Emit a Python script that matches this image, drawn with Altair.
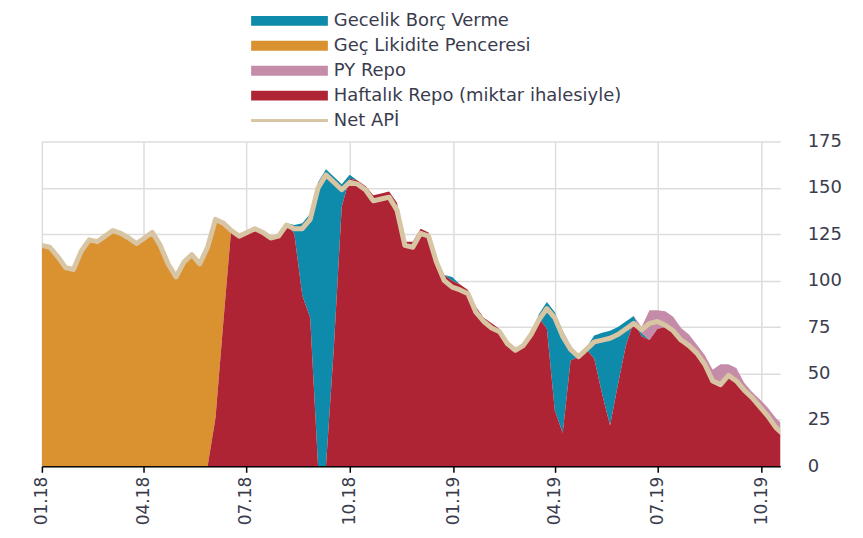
import altair as alt
import pandas as pd

dates = pd.date_range("2018-01-01", periods=95, freq="7D")

net_api = [119, 118, 113, 107, 106, 116, 122, 121, 124, 127,
           125.5, 123, 120, 123, 126, 119, 109, 102, 110, 114,
           109, 118, 133, 131, 127, 124, 126, 128, 126, 123,
           124, 130, 128, 128, 133, 150, 157, 153, 149, 153,
           152, 149, 143, 144, 145, 138, 119, 118, 125.5, 124,
           110, 100, 96.5, 95, 93, 83, 78, 74.5, 72.5, 66,
           62.5, 65, 71, 79, 85, 80, 70, 63, 59, 63,
           67, 68, 69, 71, 74, 77, 73.5, 77, 78, 76,
           73, 68, 65, 61, 55, 46, 44, 49, 46, 41,
           37, 32, 27, 21, 17]

gec_likidite = [119.5, 118.5, 113.5, 107.5, 106.5, 116.5, 122.5, 121.5, 124.5, 127.5,
                126, 123.5, 120.5, 123.5, 126.5, 119.5, 109.5, 102.5, 110.5, 114.5,
                109.5, 118.5, 107.5, 52, 0, 0, 0, 0, 0, 0,
                0, 0, 0, 0, 0, 0, 0, 0, 0, 0,
                0, 0, 0, 0, 0, 0, 0, 0, 0, 0,
                0, 0, 0, 0, 0, 0, 0, 0, 0, 0,
                0, 0, 0, 0, 0, 0, 0, 0, 0, 0,
                0, 0, 0, 0, 0, 0, 0, 0, 0, 0,
                0, 0, 0, 0, 0, 0, 0, 0, 0, 0,
                0, 0, 0, 0, 0]

haftalik = [0, 0, 0, 0, 0, 0, 0, 0, 0, 0,
            0, 0, 0, 0, 0, 0, 0, 0, 0, 0,
            0, 0, 26, 78, 128, 125, 127, 129, 127, 124,
            125, 131, 125, 92, 80, 0, 0, 64, 140, 155,
            154, 151, 146, 147, 148, 142, 121, 121, 128, 126,
            112, 103, 100, 98, 95, 86, 80, 77, 74, 67,
            63.5, 66, 72, 80, 74, 30, 18, 57, 59, 63,
            58, 39, 22, 44, 65, 78, 70, 68, 74, 75,
            72, 67, 64, 60, 54, 45, 43, 48, 45, 40,
            36, 31, 26, 20, 16]

gecelik = [0, 0, 0, 0, 0, 0, 0, 0, 0, 0,
           0, 0, 0, 0, 0, 0, 0, 0, 0, 0,
           0, 0, 0, 2, 0, 0, 0, 0, 0, 0,
           0, 0, 5, 39, 56, 153, 160, 92, 12, 2,
           0, 0, 0, 0, 0, 0, 0, 0, 0, 0,
           0, 0, 2, 0, 0, 0, 0, 0, 0, 0,
           0, 0, 0, 2, 14.5, 53, 55, 8, 1, 1,
           12.5, 33, 51, 31, 13, 3, 2, 0, 0, 0,
           0, 0, 0, 0, 0, 0, 0, 0, 0, 0,
           0, 0, 0, 0, 0]

py_repo = [0, 0, 0, 0, 0, 0, 0, 0, 0, 0,
           0, 0, 0, 0, 0, 0, 0, 0, 0, 0,
           0, 0, 0, 0, 0, 0, 0, 0, 0, 0,
           0, 0, 0, 0, 0, 0, 0, 0, 0, 0,
           0, 0, 0, 0, 0, 0, 0, 0, 0, 0,
           0, 0, 0, 0, 0, 0, 0, 0, 0, 0,
           0, 0, 0, 0, 0, 0, 0, 0, 0, 0,
           0, 0, 0, 0, 0, 0, 3, 16, 10, 8.5,
           8.5, 7.5, 7, 5.5, 6, 7, 12, 7, 8, 5,
           4, 5, 5.6, 6, 6]

series_names = ["Gecelik Borç Verme", "Geç Likidite Penceresi", "PY Repo",
                "Haftalık Repo (miktar ihalesiyle)"]
series_colors = ["#0e8aaa", "#da9231", "#c48ca8", "#ae2435"]
stack_rank = {"Haftalık Repo (miktar ihalesiyle)": 0, "Geç Likidite Penceresi": 1,
              "Gecelik Borç Verme": 2, "PY Repo": 3}
line_name = "Net APİ"
line_color = "#d8c5a3"
y_ticks = [0, 25, 50, 75, 100, 125, 150, 175]

series_values = {
    "Gecelik Borç Verme": gecelik,
    "Geç Likidite Penceresi": gec_likidite,
    "PY Repo": py_repo,
    "Haftalık Repo (miktar ihalesiyle)": haftalik,
}

rows = []
for name, vals in series_values.items():
    for d, v in zip(dates, vals):
        rows.append({"date": d, "series": name, "value": v, "rank": stack_rank[name]})
area_df = pd.DataFrame(rows)
line_df = pd.DataFrame({"date": dates, "value": net_api, "series": line_name})

text_color = "#3a3c4e"
font = "DejaVu Sans"

tick_dates = [alt.DateTime(year=y, month=m, date=1) for y, m in
              [(2018, 1), (2018, 4), (2018, 7), (2018, 10), (2019, 1), (2019, 4), (2019, 7), (2019, 10)]]

x_axis = alt.Axis(values=tick_dates, format="%m.%y", labelAngle=270, title=None,
                  labelFontSize=17, labelFont=font, labelColor=text_color,
                  tickColor="#000000", tickSize=6, tickWidth=1.5,
                  domainColor="#000000", domainWidth=1.5,
                  grid=True, gridColor="#dddddd", gridWidth=1.5, labelPadding=4)
x_scale = alt.Scale(domain=[alt.DateTime(year=2018, month=1, date=1),
                            alt.DateTime(year=2019, month=10, date=18)])
y_axis = alt.Axis(orient="right", values=y_ticks,
                  title=None, ticks=False, domain=False, labelAlign="left",
                  labelPadding=27, labelFontSize=18, labelFont=font,
                  labelColor=text_color, grid=True, gridColor="#dddddd", gridWidth=1.5)
y_scale = alt.Scale(domain=[0, 175], nice=False)

areas = alt.Chart(area_df).mark_area(clip=True).encode(
    x=alt.X("date:T", scale=x_scale, axis=x_axis),
    y=alt.Y("value:Q", stack="zero", scale=y_scale, axis=y_axis),
    fill=alt.Fill("series:N",
                  scale=alt.Scale(domain=series_names, range=series_colors),
                  legend=alt.Legend(title=None, orient="none", legendX=206, legendY=-130,
                                    symbolType="M-1,-1H14.4V1H-1Z", symbolSize=100,
                                    symbolStrokeWidth=0, labelOffset=69,
                                    labelFontSize=18, labelFont=font, labelColor=text_color,
                                    labelLimit=600, rowPadding=7, padding=0)),
    order=alt.Order("rank:Q", sort="ascending"),
)

line = alt.Chart(line_df).mark_line(clip=True, strokeWidth=5, strokeJoin="round").encode(
    x=alt.X("date:T", scale=x_scale, axis=x_axis),
    y=alt.Y("value:Q", scale=y_scale, axis=y_axis),
    stroke=alt.Stroke("series:N",
                      scale=alt.Scale(domain=[line_name], range=[line_color]),
                      legend=alt.Legend(title=None, orient="none", legendX=206, legendY=-30,
                                        symbolType="M-1,0H14.4", symbolSize=100,
                                        symbolStrokeWidth=3, labelOffset=69,
                                        labelFontSize=18, labelFont=font, labelColor=text_color,
                                        labelLimit=600, padding=0)),
)

chart = alt.layer(areas, line).properties(
    width=741, height=326,
    autosize=alt.AutoSizeParams(type="none"),
    padding={"left": 34, "top": 133, "right": 75, "bottom": 63},
).configure_view(stroke=None)

chart.save("out.html", embed_options={"renderer": "svg", "actions": False})
